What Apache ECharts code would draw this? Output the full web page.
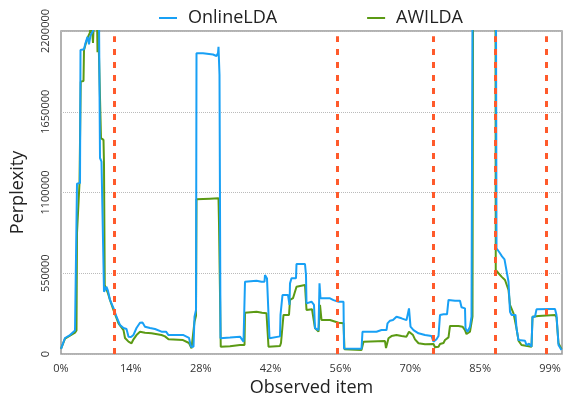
<!DOCTYPE html>
<html>
<head>
<meta charset="utf-8">
<script src="https://cdn.jsdelivr.net/npm/echarts@6/dist/echarts.min.js"></script>
<style>html,body{margin:0;padding:0;background:#fff;}#c{width:570px;height:402px;}</style>
</head>
<body>
<div id="c"></div>
<script>
// x = observed item index (0..1002), y = perplexity
const xTickLabels = ['0%','14%','28%','42%','56%','70%','85%','99%'];
const yTicks = [0, 550000, 1100000, 1650000, 2200000];
const changePoints = [106, 553, 745, 868, 971];

const onlineLDA = [
[0,35000],[8,109000],[18,129000],[28,160000],[31,165000],[32,1160000],[38,1165000],[39,2070000],[46,2075000],
[49,2118000],[53,2160000],[56,2110000],[59,2170000],[64,2200000],[66,2300000],[76,2300000],[78,1335000],
[81,1310000],[84,1320000],[86,424000],[91,458000],[94,430000],[98,368000],[105,313000],[111,254000],
[118,197000],[125,177000],[131,170000],[135,118000],[140,115000],[145,130000],[151,177000],[158,213000],
[163,215000],[168,186000],[178,177000],[188,170000],[201,152000],[210,152000],[215,129000],[245,129000],
[248,116000],[256,110000],[260,50000],[265,50000],[267,254000],[270,300000],[271,2048000],[284,2048000],
[304,2040000],[311,2030000],[314,2050000],[315,2093000],[317,1900000],[318,1900000],[319,107000],
[338,112000],[358,118000],[361,129000],[365,84000],[367,84000],[368,492000],[391,499000],[401,492000],
[407,492000],[408,538000],[412,515000],[414,510000],[417,107000],[438,120000],[439,266000],[443,402000],
[454,402000],[457,334000],[458,481000],[461,516000],[470,516000],[471,613000],[488,613000],[490,538000],
[491,345000],[501,356000],[506,334000],[508,177000],[515,163000],[517,481000],[519,379000],[538,379000],
[545,367000],[555,356000],[565,356000],[566,38000],[601,36000],[603,152000],[631,152000],[641,163000],
[651,163000],[653,209000],[658,227000],[664,231000],[671,254000],[681,243000],[691,231000],[695,231000],
[696,311000],[699,186000],[705,163000],[715,141000],[728,129000],[741,122000],[745,84000],[751,100000],
[755,122000],[758,266000],[765,270000],[772,270000],[775,368000],[788,363000],[798,363000],[801,318000],
[808,311000],[809,175000],[813,152000],[818,186000],[821,254000],[823,2300000],[870,2300000],[871,720000],
[878,686000],[882,665000],[887,645000],[891,640000],[895,492000],[898,288000],[901,266000],[909,266000],
[911,175000],[915,95000],[928,90000],[931,61000],[936,70000],[941,50000],[943,254000],[948,254000],
[951,304000],[978,307000],[988,307000],[991,266000],[995,61000],[1001,27000]
];

const awiLDA = [
[0,35000],[8,105000],[18,125000],[28,145000],[31,160000],[32,824000],[36,830000],[37,1165000],[38.5,1165000],
[39.5,1855000],[45,1860000],[46,2070000],[50,2120000],[54,2160000],[58,2190000],[60,2300000],[63,2300000],
[64,2118000],[66,2300000],[72,2300000],[73,2055000],[74,2300000],[78,2300000],[80,1470000],[85,1458000],
[86,1290000],[87,1290000],[87.5,470000],[90,465000],[94,413000],[98,368000],[105,299000],[115,209000],
[125,163000],[128,109000],[135,84000],[141,73000],[145,100000],[151,129000],[158,152000],[168,145000],
[181,141000],[201,129000],[208,120000],[215,100000],[244,95000],[248,91000],[256,75000],[261,39000],
[265,39000],[267,220000],[270,260000],[271,1054000],[298,1058000],[315,1060000],[316,890000],[319,890000],
[319.5,50000],[338,52000],[358,61000],[367,61000],[368,281000],[391,288000],[402,281000],[411,277000],
[415,50000],[438,55000],[440,75000],[445,266000],[456,266000],[458,368000],[464,380000],[471,458000],
[488,470000],[491,300000],[502,305000],[506,300000],[508,177000],[515,152000],[518,334000],[521,232000],
[538,232000],[541,231000],[555,213000],[565,209000],[567,32000],[601,27000],[605,84000],[648,88000],
[650,40000],[651,40000],[655,107000],[661,122000],[671,129000],[681,122000],[691,118000],[696,152000],
[704,129000],[708,100000],[715,73000],[728,66000],[745,68000],[748,46000],[755,50000],[758,68000],
[765,75000],[768,95000],[775,113000],[778,191000],[795,191000],[803,186000],[808,163000],[811,136000],
[818,152000],[823,254000],[824,2300000],[869,2300000],[869.5,572000],[875,550000],[881,527000],
[888,504000],[892,495000],[895,436000],[898,334000],[905,277000],[909,270000],[911,175000],[915,91000],
[921,61000],[941,50000],[943,254000],[955,259000],[988,266000],[991,250000],[995,73000],[1001,32000]
];

const xInterval = 978 / 7;
const chart = echarts.init(document.getElementById('c'), null, {renderer: 'canvas'});
const FONT = 'Open Sans';
chart.setOption({
  animation: false,
  backgroundColor: '#fff',
  textStyle: {fontFamily: FONT},
  grid: {left: 61, right: 8, top: 31, bottom: 48, show: true, borderColor: '#999', borderWidth: 1.5, backgroundColor: 'transparent'},
  legend: {
    data: ['OnlineLDA', 'AWILDA'],
    left: 154, top: 4,
    itemWidth: 18, itemHeight: 2, itemGap: 90,
    icon: 'rect',
    textStyle: {fontFamily: FONT, fontSize: 18, color: '#222', padding: [0, 0, 0, 6]}
  },
  xAxis: {
    type: 'value', min: 0, max: 1002, interval: xInterval,
    name: 'Observed item', nameLocation: 'middle', nameGap: 22,
    nameTextStyle: {fontFamily: FONT, fontSize: 18, color: '#222'},
    axisLine: {show: false}, axisTick: {show: false}, splitLine: {show: false},
    axisLabel: {
      fontFamily: FONT, fontSize: 11, color: '#333', margin: 9,
      formatter: function (v) {
        const k = Math.round(v / xInterval);
        return (Math.abs(v - k * xInterval) < 1e-6 && k < xTickLabels.length) ? xTickLabels[k] : '';
      }
    }
  },
  yAxis: {
    type: 'value', min: yTicks[0], max: yTicks[yTicks.length - 1], interval: yTicks[1] - yTicks[0],
    name: 'Perplexity', nameLocation: 'middle', nameGap: 34,
    nameTextStyle: {fontFamily: FONT, fontSize: 18, color: '#222'},
    axisLine: {show: false}, axisTick: {show: false},
    axisLabel: {fontFamily: FONT, fontSize: 11, color: '#333', rotate: 90, margin: 10,
      formatter: function (v) { return String(Math.round(v)); }},
    splitLine: {show: true, lineStyle: {color: '#bbb', type: [1, 1], width: 1}}
  },
  series: [
    {name: 'AWILDA', type: 'line', data: awiLDA, showSymbol: false, symbol: 'none', clip: true,
     lineStyle: {color: '#5b9a14', width: 2}, itemStyle: {color: '#5b9a14'}},
    {name: 'OnlineLDA', type: 'line', data: onlineLDA, showSymbol: false, symbol: 'none', clip: true,
     lineStyle: {color: '#18a0f5', width: 2}, itemStyle: {color: '#18a0f5'}},
    {name: 'changes', type: 'line', data: [], z: 5,
     markLine: {
       silent: true, symbol: ['none', 'none'], label: {show: false},
       lineStyle: {color: '#ff5a2b', width: 3, type: [6, 7]},
       data: changePoints.map(function (c) { return [{coord: [c, 0]}, {coord: [c, 2165000]}]; })
     }}
  ]
});
</script>
</body>
</html>
